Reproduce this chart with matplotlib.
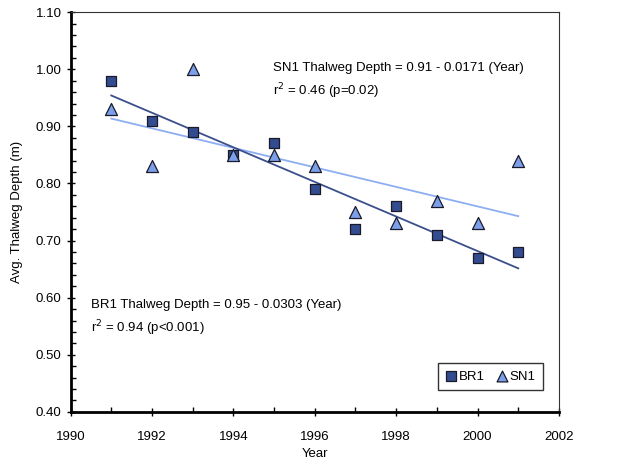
import numpy as np
import matplotlib.pyplot as plt
from matplotlib.ticker import MultipleLocator, FormatStrFormatter

plt.rcParams['font.family'] = ['Liberation Sans', 'DejaVu Sans']

years = [1991, 1992, 1993, 1994, 1995, 1996, 1997, 1998, 1999, 2000, 2001]
br1 = [0.98, 0.91, 0.89, 0.85, 0.87, 0.79, 0.72, 0.76, 0.71, 0.67, 0.68]
sn1 = [0.93, 0.83, 1.00, 0.85, 0.85, 0.83, 0.75, 0.73, 0.77, 0.73, 0.84]

br1_fill = '#334c8f'
sn1_fill = '#7b9fe8'
br1_line = '#3b4f8c'
sn1_line = '#8eaef2'

fig = plt.figure(figsize=(6.19, 4.67), dpi=100)
ax = fig.add_axes([0.114, 0.118, 0.789, 0.856])

x = np.array(years)
# regression lines
for vals, col in [(sn1, sn1_line), (br1, br1_line)]:
    m, b = np.polyfit(x, vals, 1)
    ax.plot([x[0], x[-1]], [m * x[0] + b, m * x[-1] + b], color=col, lw=1.3, zorder=2)

ax.scatter(years, br1, marker='s', s=60, facecolor=br1_fill, edgecolor='#1a1a2a',
           linewidths=0.9, label='BR1', zorder=3)
ax.scatter(years, sn1, marker='^', s=75, facecolor=sn1_fill, edgecolor='#1a1a2a',
           linewidths=0.9, label='SN1', zorder=4)

ax.set_xlim(1990, 2002)
ax.set_ylim(0.40, 1.10)
ax.xaxis.set_major_locator(MultipleLocator(2))
ax.xaxis.set_minor_locator(MultipleLocator(1))
ax.yaxis.set_major_locator(MultipleLocator(0.1))
ax.yaxis.set_minor_locator(MultipleLocator(0.02))
ax.yaxis.set_major_formatter(FormatStrFormatter('%.2f'))
ax.tick_params(which='major', direction='inout', length=6, width=1, labelsize=9.5, colors='black')
ax.tick_params(which='minor', direction='in', length=3.5, width=1)
ax.tick_params(axis='x', pad=11)

for side in ['left', 'bottom']:
    ax.spines[side].set_linewidth(2)
for side in ['top', 'right']:
    ax.spines[side].set_linewidth(0.8)
    ax.spines[side].set_color('#333333')

ax.set_xlabel('Year', fontsize=9.5, labelpad=3)
ax.set_ylabel('Avg. Thalweg Depth (m)', fontsize=9.5, labelpad=9)

ax.text(1994.98, 1.002, 'SN1 Thalweg Depth = 0.91 - 0.0171 (Year)', fontsize=9.5, va='center')
ax.text(1994.98, 0.962, r'r$^2$ = 0.46 (p=0.02)', fontsize=9.5, va='center')
ax.text(1990.51, 0.587, 'BR1 Thalweg Depth = 0.95 - 0.0303 (Year)', fontsize=9.5, va='center')
ax.text(1990.51, 0.547, r'r$^2$ = 0.94 (p<0.001)', fontsize=9.5, va='center')

leg = ax.legend(loc='lower right', bbox_to_anchor=(0.967, 0.055), ncol=2, fontsize=9.5,
                frameon=True, fancybox=False, handletextpad=0.1, columnspacing=0.9,
                handlelength=0.9, borderpad=0.55, markerscale=0.9, borderaxespad=0)
leg.get_frame().set_edgecolor('black')
leg.get_frame().set_linewidth(1)

fig.savefig('out.png', dpi=100)
